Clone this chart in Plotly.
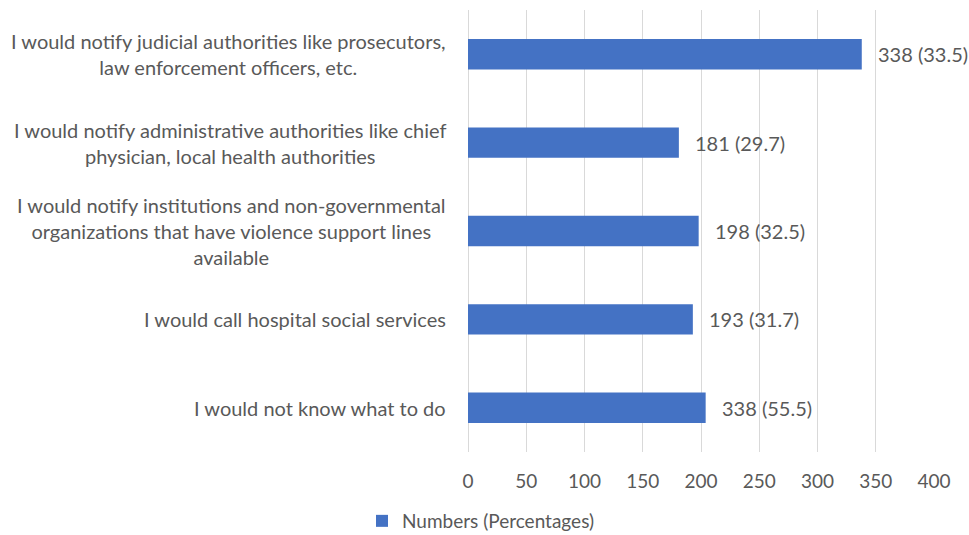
import plotly.graph_objects as go

categories = [
    "I would notify judicial authorities like prosecutors,<br>law enforcement officers, etc.",
    "I would notify administrative authorities like chief<br>physician, local health authorities",
    "I would notify institutions and non-governmental<br>organizations that have violence support lines<br>available",
    "I would call hospital social services",
    "I would not know what to do",
]
values = [338, 181, 198, 193, 204]
value_labels = ["338 (33.5)", "181 (29.7)", "198 (32.5)", "193 (31.7)", "338 (55.5)"]
x_ticks = [0, 50, 100, 150, 200, 250, 300, 350, 400]
series_name = "Numbers (Percentages)"

FONT = "Lato, 'Open Sans', sans-serif"
GREY = "#595959"
W, H = 969, 535
ML, MR, MT, MB = 468, 35, 10, 83
plot_w = W - ML - MR
plot_h = H - MT - MB

fig = go.Figure()
fig.add_trace(go.Bar(
    y=categories, x=values, orientation="h",
    marker=dict(color="#4472C4", line=dict(width=0)),
    name=series_name, showlegend=True,
))

annotations = []
for c in categories:
    annotations.append(dict(
        x=-20 / plot_w, xref="paper", y=c, yref="y",
        text=c, showarrow=False, xanchor="right", yanchor="middle",
        align="center", font=dict(family=FONT, size=20, color=GREY),
    ))
for c, v, t in zip(categories, values, value_labels):
    annotations.append(dict(
        x=v, xref="x", y=c, yref="y", text=t, showarrow=False,
        xanchor="left", yanchor="middle", xshift=14,
        font=dict(family=FONT, size=20, color=GREY),
    ))

fig.update_layout(
    width=W, height=H,
    margin=dict(l=ML, r=MR, t=MT, b=MB, autoexpand=False),
    paper_bgcolor="white", plot_bgcolor="white",
    bargap=0.656,
    annotations=annotations,
    xaxis=dict(range=[0, 400], tickvals=x_ticks, showgrid=True,
               gridcolor="#d9d9d9", gridwidth=1, zeroline=True,
               zerolinecolor="#d9d9d9", zerolinewidth=1, showline=False,
               tickfont=dict(family=FONT, size=19, color=GREY),
               ticks="", ticklabelstandoff=16, fixedrange=True),
    yaxis=dict(autorange="reversed", showticklabels=False, showgrid=False,
               zeroline=False, showline=False, ticks=""),
    legend=dict(orientation="h", x=13 / plot_w, xanchor="center",
                y=-(521 - (MT + plot_h)) / plot_h, yanchor="middle",
                itemwidth=30,
                font=dict(family=FONT, size=19, color=GREY)),
)

fig.write_html("out.html")
